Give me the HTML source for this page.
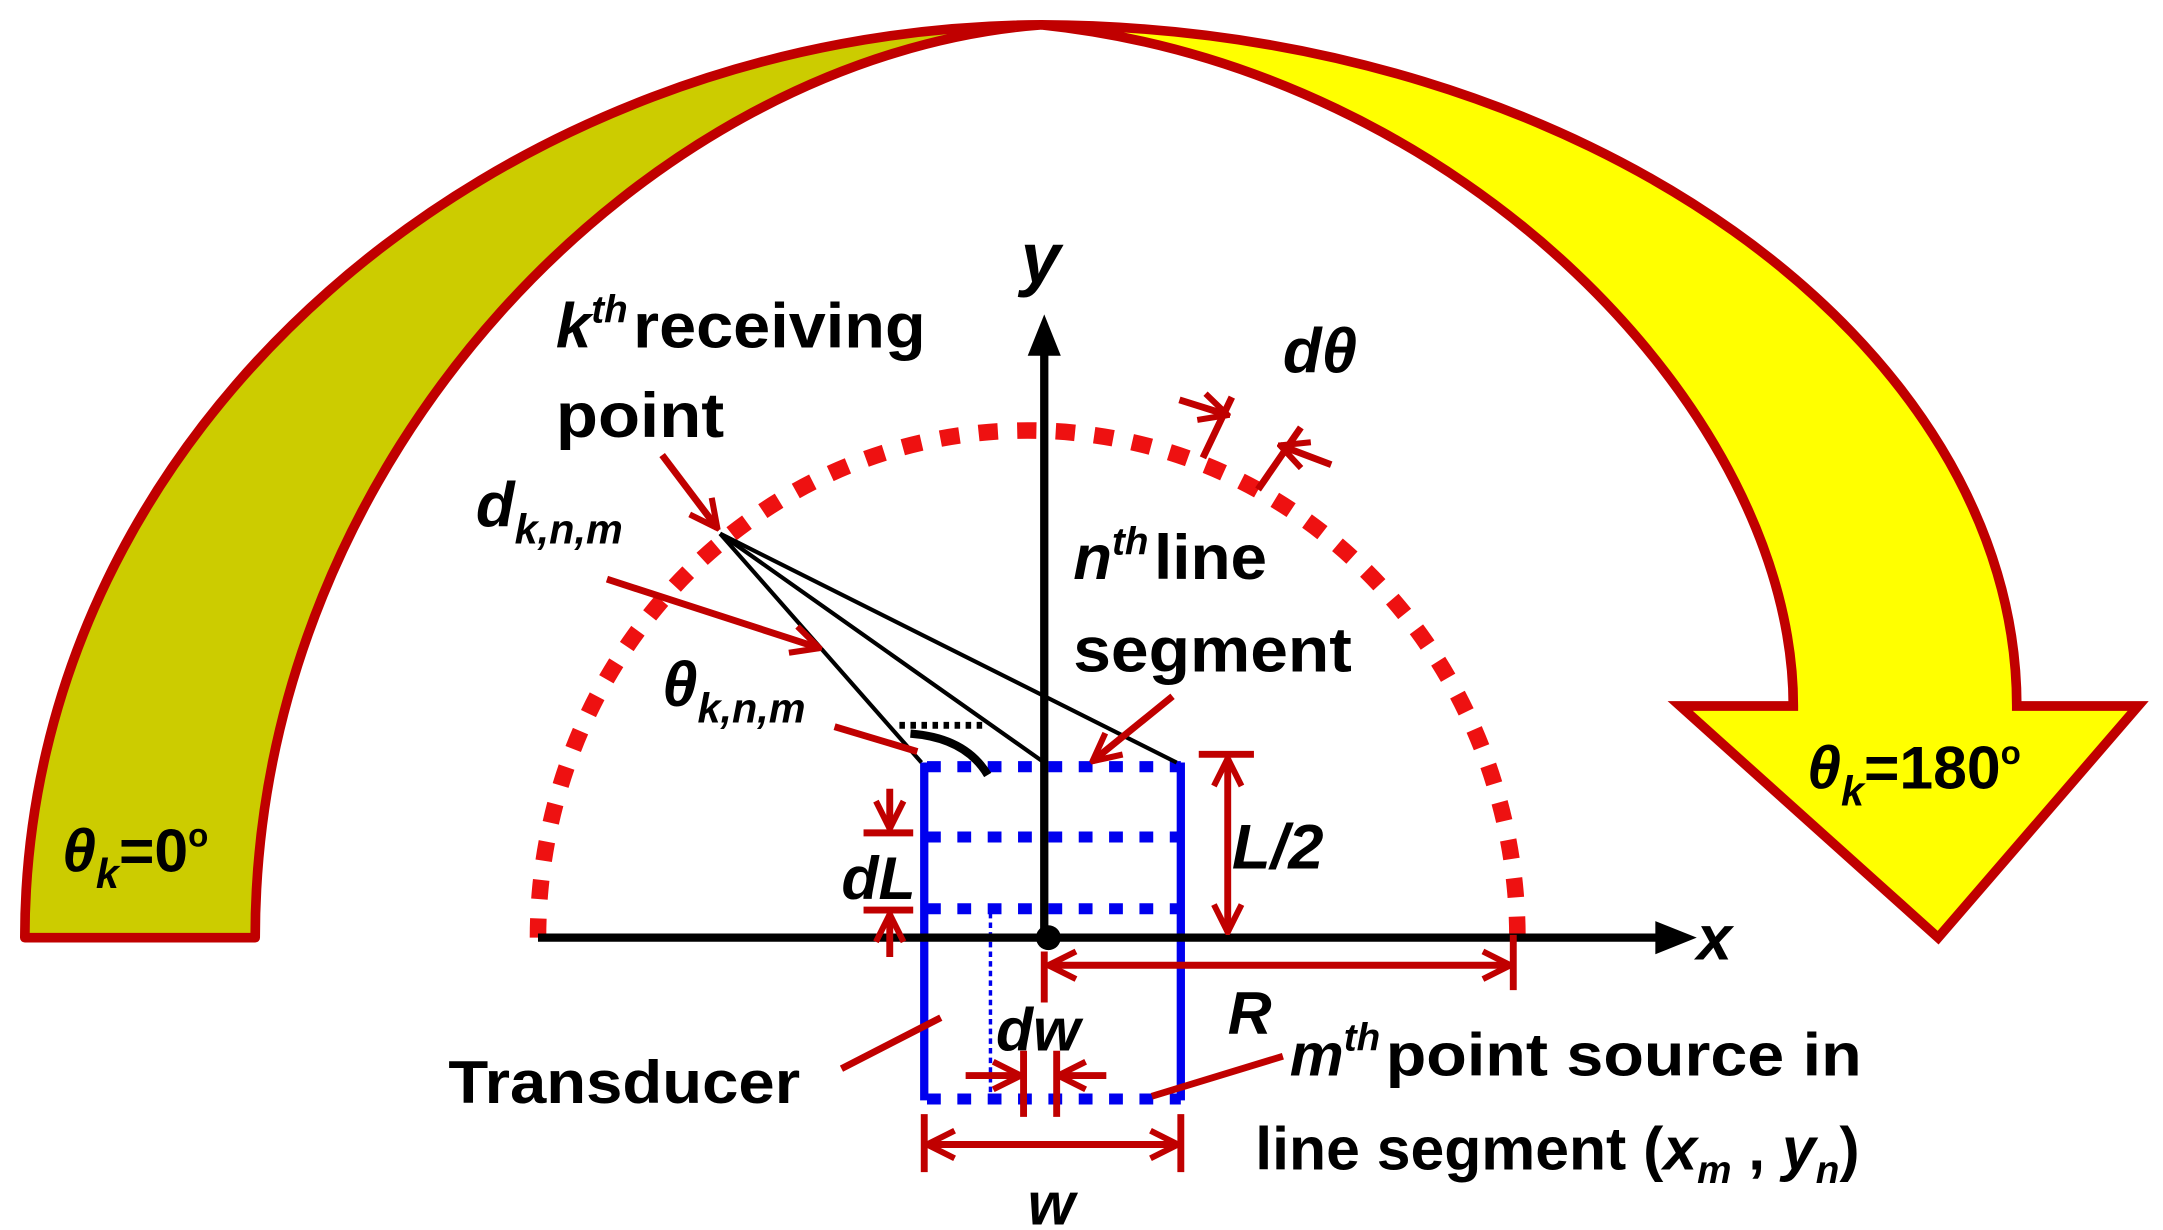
<!DOCTYPE html>
<html><head><meta charset="utf-8"><style>
html,body{margin:0;padding:0;background:#fff;}
svg{display:block;}
text{font-family:"Liberation Sans",sans-serif;font-weight:bold;fill:#000;}
</style></head><body>
<svg width="2163" height="1230" viewBox="0 0 1568 892" preserveAspectRatio="none" xmlns="http://www.w3.org/2000/svg">
<defs>
<marker id="ar" viewBox="0 0 12 12" refX="11" refY="6" markerWidth="24" markerHeight="24" orient="auto-start-reverse" markerUnits="userSpaceOnUse"><path d="M1,1 L11,6 L1,11" fill="none" stroke="#c00000" stroke-width="2.2"/></marker>
</defs>
<!-- left band -->
<path d="M18,680 C18,310 360,20 755,18 C470,40 185,330 185,680 Z" fill="#cccc00" stroke="#c00000" stroke-width="7" stroke-linejoin="round"/>
<!-- right band with head -->
<path d="M755,18 C1150,20 1462,250 1462,512 L1550,512 L1405,680 L1218,512 L1300,512 C1300,300 1060,50 755,18 Z" fill="#ffff00" stroke="#c00000" stroke-width="7" stroke-linejoin="miter"/>
<!-- dotted semicircle -->
<path d="M390,680 A355,368 0 0 1 1100,680" fill="none" stroke="#ee1111" stroke-width="12" stroke-dasharray="14,14"/>
<!-- blue transducer -->
<g stroke="#0000ee" fill="none">
<line x1="670" y1="553" x2="670" y2="798" stroke-width="6"/>
<line x1="856" y1="553" x2="856" y2="798" stroke-width="6"/>
<g stroke-width="8" stroke-dasharray="10,12">
<line x1="672" y1="556" x2="856" y2="556"/>
<line x1="672" y1="607" x2="856" y2="607"/>
<line x1="672" y1="659" x2="856" y2="659"/>
<line x1="672" y1="797" x2="856" y2="797"/>
</g>
<line x1="718" y1="662" x2="718" y2="798" stroke-width="2.5" stroke-dasharray="4,3"/>
</g>
<!-- axes -->
<line x1="390" y1="680" x2="1205" y2="680" stroke="#000" stroke-width="6"/>
<path d="M1200,668 L1230,680 L1200,692 Z" fill="#000"/>
<line x1="757" y1="680" x2="757" y2="255" stroke="#000" stroke-width="6"/>
<path d="M745,258 L757,228 L769,258 Z" fill="#000"/>
<circle cx="760" cy="680" r="9" fill="#000"/>
<!-- black rays -->
<g stroke="#000" stroke-width="3" fill="none">
<line x1="522" y1="387" x2="668" y2="553"/>
<line x1="522" y1="387" x2="757" y2="553"/>
<line x1="522" y1="387" x2="853" y2="553"/>
</g>
<path d="M660,532 Q700,535 716,562" fill="none" stroke="#000" stroke-width="6"/>
<line x1="652" y1="526" x2="712" y2="526" stroke="#000" stroke-width="5" stroke-dasharray="4,4"/>
<!-- red annotations -->
<g stroke="#c00000" stroke-width="5" fill="none" stroke-linecap="butt">
<line x1="480" y1="330" x2="520" y2="383" marker-end="url(#ar)"/>
<line x1="440" y1="420" x2="594" y2="470" marker-end="url(#ar)"/>
<line x1="605" y1="527" x2="665" y2="545"/>
<line x1="850" y1="505" x2="792" y2="552" marker-end="url(#ar)"/>
<!-- dtheta -->
<line x1="855" y1="290" x2="890" y2="301" marker-end="url(#ar)"/>
<line x1="965" y1="337" x2="928" y2="323" marker-end="url(#ar)"/>
<line x1="872" y1="332" x2="893" y2="288"/>
<line x1="912" y1="355" x2="943" y2="310"/>
<!-- L/2 -->
<line x1="869" y1="547" x2="909" y2="547"/>
<line x1="890" y1="550" x2="890" y2="676" marker-start="url(#ar)" marker-end="url(#ar)"/>
<!-- dL -->
<line x1="645" y1="572" x2="645" y2="601" marker-end="url(#ar)"/>
<line x1="626" y1="604" x2="662" y2="604"/>
<line x1="626" y1="660" x2="662" y2="660"/>
<line x1="645" y1="694" x2="645" y2="663" marker-end="url(#ar)"/>
<!-- R -->
<line x1="760" y1="700" x2="1095" y2="700" marker-start="url(#ar)" marker-end="url(#ar)"/>
<line x1="1097" y1="678" x2="1097" y2="718"/>
<line x1="757" y1="690" x2="757" y2="727"/>
<!-- transducer -->
<line x1="610" y1="775" x2="682" y2="738"/>
<!-- dw -->
<line x1="700" y1="780" x2="740" y2="780" marker-end="url(#ar)"/>
<line x1="802" y1="780" x2="767" y2="780" marker-end="url(#ar)"/>
<line x1="742" y1="762" x2="742" y2="810"/>
<line x1="766" y1="762" x2="766" y2="810"/>
<!-- mth -->
<line x1="835" y1="795" x2="930" y2="766"/>
<!-- w -->
<line x1="672" y1="830" x2="854" y2="830" marker-start="url(#ar)" marker-end="url(#ar)"/>
<line x1="670" y1="808" x2="670" y2="850"/>
<line x1="856" y1="808" x2="856" y2="850"/>
</g>
<!-- texts -->
<text x="740" y="205" font-size="52" font-style="italic">y</text>
<text x="1230" y="696" font-size="46" font-style="italic">x</text>
<text x="403" y="252" font-size="46"><tspan font-style="italic">k</tspan><tspan font-style="italic" font-size="28" dy="-18">th</tspan><tspan dy="18" dx="4" textLength="212" lengthAdjust="spacingAndGlyphs">receiving</tspan></text>
<text x="403" y="317" font-size="46" textLength="122" lengthAdjust="spacingAndGlyphs">point</text>
<text x="345" y="382" font-size="46" font-style="italic">d<tspan font-size="30" dy="12">k,n,m</tspan></text>
<text x="778" y="420" font-size="46"><tspan font-style="italic">n</tspan><tspan font-style="italic" font-size="28" dy="-18">th</tspan><tspan dy="18" dx="4" textLength="82" lengthAdjust="spacingAndGlyphs">line</tspan></text>
<text x="778" y="487" font-size="46" textLength="202" lengthAdjust="spacingAndGlyphs">segment</text>
<text x="480" y="512" font-size="46" font-style="italic">θ<tspan font-size="30" dy="12">k,n,m</tspan></text>
<text x="930" y="270" font-size="46" font-style="italic">dθ</text>
<text x="893" y="630" font-size="46" font-style="italic">L/2</text>
<text x="610" y="652" font-size="44" font-style="italic">dL</text>
<text x="45" y="632" font-size="44"><tspan font-style="italic">θ</tspan><tspan font-style="italic" font-size="30" dy="12">k</tspan><tspan dy="-12">=0</tspan><tspan font-size="24" dy="-18">o</tspan></text>
<text x="1310" y="572" font-size="44"><tspan font-style="italic">θ</tspan><tspan font-style="italic" font-size="30" dy="12">k</tspan><tspan dy="-12">=180</tspan><tspan font-size="24" dy="-18">o</tspan></text>
<text x="890" y="750" font-size="44" font-style="italic">R</text>
<text x="722" y="762" font-size="44" font-style="italic">dw</text>
<text x="325" y="800" font-size="44" textLength="255" lengthAdjust="spacingAndGlyphs">Transducer</text>
<text x="935" y="780" font-size="44"><tspan font-style="italic">m</tspan><tspan font-style="italic" font-size="28" dy="-18">th</tspan><tspan dy="18" dx="4" textLength="345" lengthAdjust="spacingAndGlyphs">point source in</tspan></text>
<text x="910" y="848" font-size="44">line segment (<tspan font-style="italic">x</tspan><tspan font-style="italic" font-size="28" dy="10">m</tspan><tspan dy="-10"> , </tspan><tspan font-style="italic">y</tspan><tspan font-style="italic" font-size="28" dy="10">n</tspan><tspan dy="-10">)</tspan></text>
<text x="745" y="888" font-size="44" font-style="italic">w</text>
</svg>
</body></html>
